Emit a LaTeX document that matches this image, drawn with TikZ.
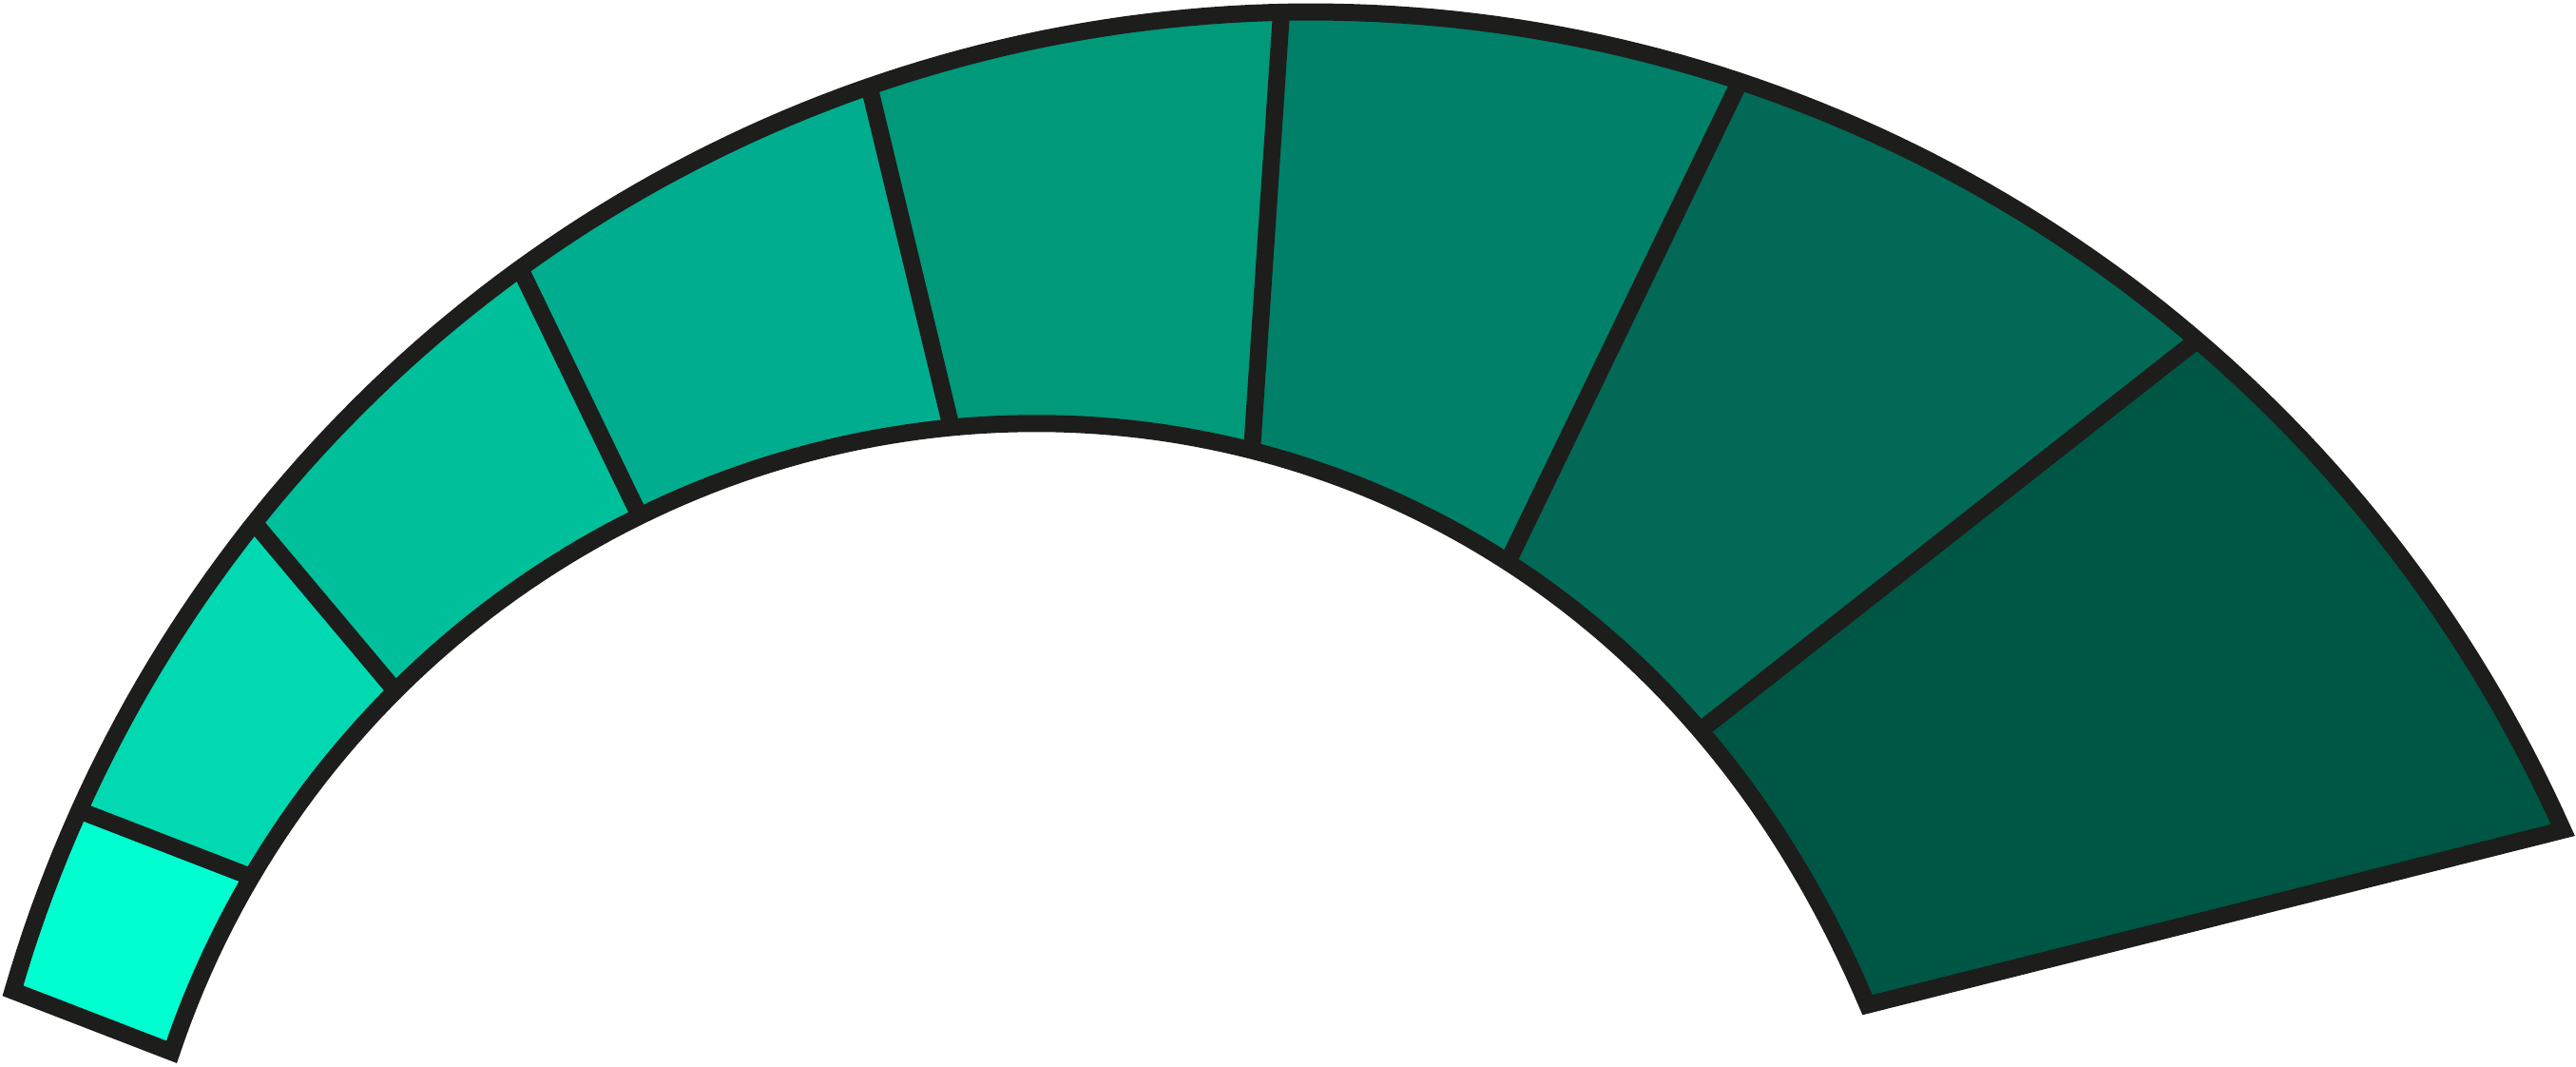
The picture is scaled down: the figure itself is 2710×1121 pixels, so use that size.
\documentclass[tikz,border=0pt]{standalone}
\usepackage{xcolor}
\usepackage{tikz}
\usetikzlibrary{calc}
\definecolor{bandA}{RGB}{0,255,208}
\definecolor{bandB}{RGB}{0,217,178}
\definecolor{bandC}{RGB}{0,191,155}
\definecolor{bandD}{RGB}{0,173,142}
\definecolor{bandE}{RGB}{0,153,121}
\definecolor{bandF}{RGB}{0,128,104}
\definecolor{bandG}{RGB}{2,105,86}
\definecolor{bandH}{RGB}{0,86,69}
\definecolor{rimblack}{RGB}{29,29,27}
\tikzset{
  rim/.style={draw=rimblack, line width=1.8mm, line join=miter},
  declare function={
    rout(\t) = 1431 - 0.99735*(\t-20.97) + 0.74382*((\t-20.97)/10)*((\t-70.1)/10);
    rin(\t) = 688 + 3.0154*(\t-28.5) + 1.9229*((\t-28.5)/10)*((\t-74.1)/10)
              - 0.23477*((\t-28.5)/10)*((\t-74.1)/10)*((\t-120.5)/10);
  },
}
% the whole band: outer edge right to left, inner edge back
\newcommand{\bandpath}{plot[domain=20.97:165.7, samples=160, variable=\t] ({1360+rout(\t)*cos(\t)}, {-264+rout(\t)*sin(\t)})
  -- plot[domain=-166.7:-28.5, samples=160, variable=\t] ({1360+rin(-(\t))*cos(-(\t))}, {-264+rin(-(\t))*sin(-(\t))})
  -- cycle}
\begin{document}
\begin{tikzpicture}[x=0.1mm, y=0.1mm]
\useasboundingbox (0,0) rectangle (2710,1121);
\coordinate (C) at (1360,-264);
% ends of the dividers, outer and inner
\foreach \k/\a/\b in {0/165.7/166.7, 1/157.35/157.1, 2/142.6/145.1, 3/126.4/129.2, 4/109.0/111.0, 5/90.5/92.7, 6/70.1/74.1, 7/47.2/55.2, 8/20.97/28.5} {
  \coordinate (o\k) at ($(C)+(\a:{rout(\a)})$);
  \coordinate (i\k) at ($(C)+(\b:{rin(\b)})$);
}
% coloured bands
\foreach \k/\col [evaluate=\k as \n using int(\k+1)] in {0/bandA,1/bandB,2/bandC,3/bandD,4/bandE,5/bandF,6/bandG,7/bandH} {
  \begin{scope}
    \clip ($(o\k)!1.4!(i\k)$) -- ($(i\k)!1.3!(o\k)$) -- ($(i\n)!1.3!(o\n)$) -- ($(o\n)!1.4!(i\n)$) -- cycle;
    \fill[\col] \bandpath;
  \end{scope}
}
% outline and dividers
\draw[rim] \bandpath;
\foreach \k in {1,...,7}
  \draw[rim] (o\k) -- (i\k);
\end{tikzpicture}
\end{document}
